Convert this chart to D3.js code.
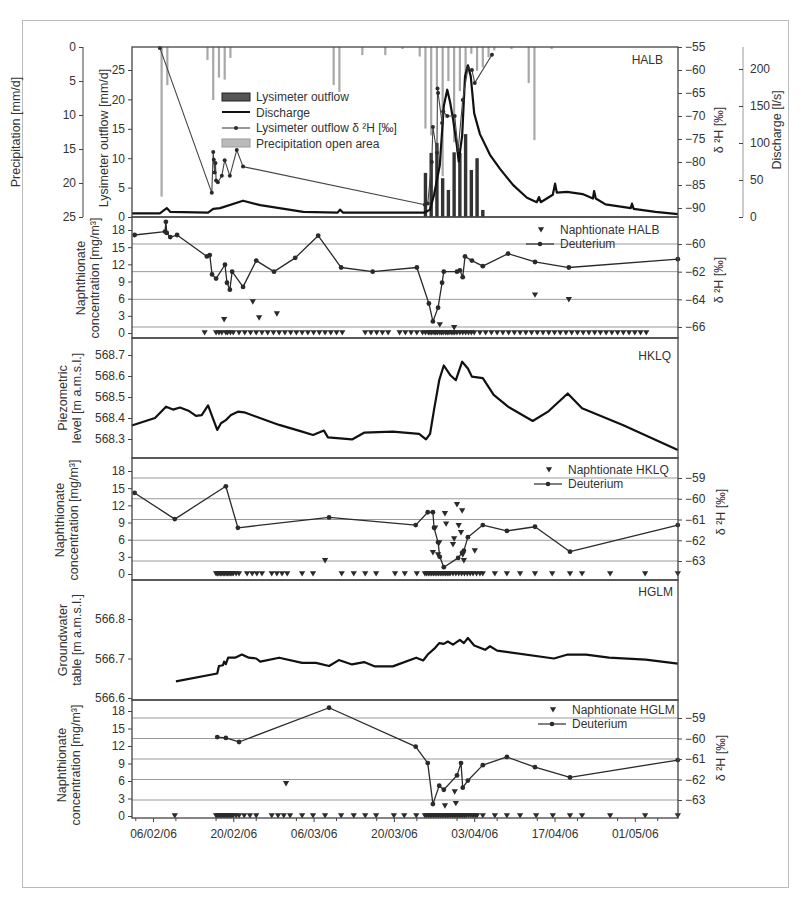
<!DOCTYPE html>
<meta charset="utf-8">
<style>
body { margin: 0; background: #fff; }
svg { font-family: "Liberation Sans", Arial, sans-serif; }
.axis text { font-size: 12px; fill: #333; }
.axis line { stroke: #444; }
.lbl { font-size: 12.5px; fill: #333; }
.leg { font-size: 12px; fill: #333; }
</style>
<svg width="809" height="900"></svg>
<script src="https://cdn.jsdelivr.net/npm/d3@7/dist/d3.min.js"></script>
<script>

// dates are "month-day" in 2006, day may be fractional
// ---- panel 1: HALB lysimeter / discharge / precipitation
var precipOpen = [["2-7",22],["2-8",5.6],["2-15",1.9],["2-16",7.8],["2-17",4.5],["2-18",4.8],["2-19",1.6],
  ["3-9",5.6],["3-10",6.6],["3-14",1.2],["3-18",1.2],["3-21",0.3],["3-24",1.4],["3-25",12],["3-26",13],
  ["3-27",6],["3-28",19],["3-29",5],["3-30",14],["3-31",6.5],["4-1",4],["4-2",1],["4-3",3.5],["4-4",3],
  ["4-5",1.5],["4-6",0.5],["4-9",0.3],["4-12",5.3],["4-13",13.7],["4-16",0.3]];
var lysOutflow = [["3-25",7.5],["3-26",10.9],["3-27",12.6],["3-28",6.6],["3-29",4.6],["3-30",11],
  ["3-31",10.9],["4-1",14.1],["4-2",8],["4-3",10],["4-4",1.2]];
var discharge = [["2-2.34",5],["2-7.2",5],["2-8.4",12],["2-9",7],["2-15.6",6],["2-16.5",11],["2-17.7",12],
  ["2-21.7",22],["2-24.7",16],["3-4.2",7],["3-10.2",6],["3-10.6",10],["3-11.1",6],["3-24.5",6],["3-25.4",6],
  ["3-26.3",10],["3-27",30],["3-27.5",50],["3-28",70],["3-28.7",150],["3-29.3",172],["3-29.8",155],
  ["3-30.3",133],["3-31",95],["3-31.3",75],["3-31.9",110],["4-1.4",190],["4-1.9",205],["4-2.4",190],
  ["4-3",140],["4-4",112],["4-5.75",84],["4-7.5",65],["4-9.8",43],["4-12.2",26],["4-13.9",20],["4-14.3",27],
  ["4-14.6",20],["4-16.7",30],["4-17.1",45],["4-17.4",33],["4-19.2",34],["4-21.9",31],["4-23.7",25],
  ["4-23.9",35],["4-24.2",25],["4-25.9",17],["4-30.3",12],["4-30.5",18],["4-30.8",11],["5-4.6",7],["5-8.5",4]];
var lysD2H = [["2-7.2",-55.2],["2-16.25",-86.7],["2-16.5",-77.8],["2-16.6",-79.5],["2-16.75",-82.3],
  ["2-16.9",-80.2],["2-17",-84],["2-17.3",-84.4],["2-18",-83],["2-18.5",-79.6],["2-19.4",-83],
  ["2-20.6",-77.4],["2-21.7",-81],["3-25.4",-89.3],["3-25.9",-89],["3-26.6",-80],["3-26.8",-72.4],
  ["3-27.5",-78],["3-27.6",-64],["3-27.7",-65],["3-28.4",-71.5],["3-28.6",-69],["3-29.3",-70],
  ["3-30.6",-70],["3-31.2",-77.4],["4-1",-66.5],["4-1.9",-59.6],["4-2.6",-60],["4-3.1",-62.8],["4-6.1",-56.7]];

// ---- panel 2: HALB naphthionate / deuterium
var halbD2H = [["2-2.8",-59.35],["2-8.1",-59.1],["2-8.25",-58.4],["2-8.4",-59.2],["2-9",-59.5],["2-10.2",-59.35],
  ["2-15.4",-60.9],["2-15.9",-60.8],["2-16.3",-62.2],["2-17",-62.5],["2-18.55",-61.5],["2-18.9",-62.8],
  ["2-19.4",-63.3],["2-19.8",-62],["2-21.7",-63.1],["2-24",-61.2],["2-27.1",-62],["3-2.8",-61],["3-6.8",-59.4],
  ["3-10.8",-61.7],["3-16.3",-62],["3-24",-61.7],["3-26.1",-64.3],["3-26.8",-65.6],["3-27.7",-64.6],
  ["3-28.4",-62.8],["3-28.7",-62],["3-31",-62],["3-31.5",-61.9],["4-1",-62.4],["4-1.4",-60.9],["4-2.6",-61.2],
  ["4-4.5",-61.6],["4-8.9",-60.7],["4-13.6",-61.3],["4-19.5",-61.7],["5-8.5",-61.1]];
var halbNaph = [["2-18.4",2.3],["2-23.4",5.4],["2-24.5",2.6],["2-27.6",3.3],["3-28",1.4],["3-30.5",0.9],
  ["4-13.6",6.6],["4-19.5",5.8]];
var halbZero = ["2-15","2-17","2-17.5","2-18","2-18.7","2-19","2-19.5","2-20","2-21","2-22","2-23","2-24",
  "2-25","2-26","2-27","2-28","3-1","3-2","3-3","3-4","3-5","3-6","3-7","3-8","3-9","3-10","3-11",
  "3-15","3-16","3-17","3-18","3-19","3-21","3-22","3-23","3-24","3-25","3-25.5","3-26","3-26.3","3-26.6",
  "3-27","3-27.3","3-27.6","3-28","3-28.3","3-28.6","3-29","3-29.3","3-29.6","3-30","3-30.3","3-30.6",
  "3-31","3-31.5","4-1","4-1.5","4-2","4-2.5","4-3","4-4","4-5","4-6","4-7","4-8","4-9","4-10","4-11",
  "4-12","4-13","4-14","4-15","4-16","4-17","4-18","4-19","4-20","4-21","4-22","4-23","4-24","4-25",
  "4-26","4-27","4-28","4-29","4-30","5-1","5-2","5-3"];

// ---- panel 3: HKLQ piezometric level
var hklqLevel = [["2-2.3",568.364],["2-6.35",568.40],["2-8.27",568.454],["2-9.5",568.44],["2-10.7",568.45],
  ["2-12.3",568.433],["2-13.5",568.41],["2-14.5",568.414],["2-15.6",568.46],["2-17.2",568.343],
  ["2-17.85",568.375],["2-18.7",568.39],["2-19.6",568.414],["2-20.8",568.43],["2-21.9",568.427],
  ["2-28",568.367],["3-4",568.335],["3-5.9",568.319],["3-7.8",568.34],["3-8.5",568.308],["3-12.7",568.298],
  ["3-14.8",568.33],["3-19.8",568.335],["3-24.4",568.324],["3-25.6",568.298],["3-26.3",568.324],
  ["3-27",568.44],["3-27.9",568.58],["3-28.7",568.65],["3-29.8",568.605],["3-30.8",568.58],["3-31.9",568.668],
  ["4-1.9",568.636],["4-2.6",568.597],["4-4.5",568.59],["4-6.4",568.51],["4-8.9",568.454],["4-13.2",568.386],
  ["4-16",568.433],["4-19.3",568.517],["4-21.8",568.446],["4-28.9",568.367],["5-8.5",568.248]];

// ---- panel 4: HKLQ naphthionate / deuterium
var hklqD2H = [["2-2.8",-59.72],["2-9.8",-60.98],["2-18.7",-59.4],["2-20.8",-61.4],["3-8.7",-60.9],
  ["3-23.8",-61.27],["3-25.9",-60.65],["3-26.8",-60.65],["3-27",-61.4],["3-27.7",-62.1],["3-28",-62.8],
  ["3-28.7",-63.3],["3-31.2",-62.85],["3-31.9",-62.6],["4-1.2",-62.5],["4-1.9",-61.85],["4-4.5",-61.27],
  ["4-8.7",-61.55],["4-13.6",-61.35],["4-19.7",-62.55],["5-8.5",-61.27]];
var hklqNaph = [["3-8",2.3],["3-26.8",3.7],["3-27.2",8],["3-27.7",3.3],["3-27.9",5.4],["3-28.9",10.5],
  ["3-29.1",8.7],["3-30.3",5.1],["3-30.5",6.1],["3-31",12.1],["3-31.3",8.4],["3-31.7",7.2],["3-31.9",11],
  ["4-1",3.3],["4-1.2",2.3],["4-3.1",4]];
var hklqZero = ["2-17","2-17.25","2-17.5","2-17.75","2-18","2-18.25","2-18.5","2-18.75","2-19","2-19.25",
  "2-19.5","2-19.75","2-20","2-20.5","2-21","2-22.4","2-23.3","2-24.1","2-25","2-26.7","2-27.6","2-28.5",
  "3-1.4","3-4","3-5.9","3-10.9","3-13","3-15","3-16.9","3-20.2","3-21.9","3-24","3-25.4","3-25.7","3-26",
  "3-26.3","3-26.6","3-26.9","3-27.2","3-27.5","3-27.8","3-28.1","3-28.4","3-28.7","3-29","3-29.3","3-29.6",
  "3-29.8","3-30.3","3-30.8","3-31.3","3-31.8","4-1.3","4-1.8","4-2.3","4-2.8","4-3.4","4-4","4-4.5",
  "4-6.6","4-8.7","4-11","4-13.6","4-16.6","4-19.7","4-21.8","4-26.7","5-2.8","5-8.5"];

// ---- panel 5: HGLM groundwater table
var hglmLevel = [["2-10",566.642],["2-17.2",566.662],["2-17.5",566.681],["2-18.2",566.683],["2-18.4",566.692],
  ["2-18.7",566.686],["2-19.1",566.702],["2-20.3",566.702],["2-21.5",566.71],["2-22.7",566.702],["2-24",566.7],
  ["2-24.7",566.692],["2-28",566.702],["3-4",566.689],["3-6.4",566.689],["3-8.7",566.681],["3-10.4",566.696],
  ["3-12.7",566.685],["3-14.8",566.691],["3-16.7",566.68],["3-19.8",566.68],["3-23.9",566.702],
  ["3-25.1",566.695],["3-25.9",566.71],["3-27.2",566.727],["3-27.9",566.739],["3-28.7",566.737],
  ["3-29.4",566.743],["3-30.3",566.735],["3-31.5",566.747],["4-1.2",566.739],["4-1.9",566.752],["4-3",566.733],
  ["4-4.9",566.722],["4-5.75",566.731],["4-7",566.72],["4-16.9",566.7],["4-19.3",566.71],["4-22.5",566.71],
  ["4-26.5",566.702],["5-2.9",566.697],["5-8.5",566.687]];

// ---- panel 6: HGLM naphthionate / deuterium
var hglmD2H = [["2-17.2",-59.93],["2-18.7",-59.97],["2-21",-60.17],["3-8.7",-58.5],["3-23.8",-60.4],
  ["3-25.9",-61.2],["3-26.8",-63.2],["3-27.9",-62.3],["3-28.7",-62.5],["3-31",-61.8],["3-31.7",-61.2],
  ["4-1",-62.4],["4-1.9",-62.05],["4-4.5",-61.3],["4-8.7",-60.9],["4-13.6",-61.4],["4-19.7",-61.9],["5-8.5",-61.05]];
var hglmNaph = [["3-1.2",5.5],["3-28.9",1.7],["3-30.6",4.1],["3-30.8",2.1]];
var hglmZero = ["2-9.8","2-17","2-17.25","2-17.5","2-17.75","2-18","2-18.25","2-18.5","2-18.75","2-19",
  "2-19.25","2-19.5","2-19.75","2-20","2-20.5","2-21","2-21.9","2-22.9","2-24","2-26.7","2-27.8","2-28.8",
  "3-1.9","3-4","3-5.9","3-8","3-10.8","3-13","3-15","3-16.9","3-20","3-21.8","3-23.9","3-25.4","3-25.7",
  "3-26","3-26.3","3-26.6","3-26.9","3-27.2","3-27.5","3-27.8","3-28.1","3-28.4","3-28.7","3-29","3-29.3",
  "3-29.6","3-29.9","3-30.2","3-30.5","3-30.8","3-31.1","3-31.4","3-31.7","4-1","4-1.3","4-1.6","4-2",
  "4-2.4","4-2.8","4-3.2","4-3.5","4-4.5","4-6.6","4-8.7","4-11","4-13.8","4-16.7","4-19.7","4-21.8",
  "4-26.7","5-2.8","5-8.5"];

var xTicks = ["2-6","2-20","3-6","3-20","4-3","4-17","5-1"];

// ------------------------------------------------------------------
var t = function(s) {
  var p = s.split("-");
  return new Date(Date.UTC(2006, +p[0] - 1, 1) + (+p[1] - 1) * 864e5);
};
var svg = d3.select("svg");
var X0 = 132, X1 = 678;
var x = d3.scaleUtc().domain([t("2-2.34"), t("5-8.53")]).range([X0, X1]);
var day = x(t("2-2")) - x(t("2-1"));
var ink = "#2a2a2a";
var fInt = d3.format("d");

svg.append("rect").attr("x", 22.5).attr("y", 20.5).attr("width", 766).attr("height", 867)
  .attr("fill", "none").attr("stroke", "#bbb");

function axis(gen, tx, ty, vals, fmt) {
  var g = svg.append("g").attr("class", "axis").attr("transform", "translate(" + tx + "," + ty + ")")
    .call(gen.tickValues(vals).tickSize(4).tickPadding(3).tickFormat(fmt || null));
  g.select(".domain").remove();
  return g;
}
// rotated axis title, xc = centre of the first line
function vlabel(xc, yc, lines) {
  lines.forEach(function(s, i) {
    svg.append("text").attr("class", "lbl").attr("text-anchor", "middle")
      .attr("transform", "translate(" + (xc + 5 + i * 14) + "," + yc + ") rotate(-90)").text(s);
  });
}
function grid(vals, y) {
  svg.append("g").selectAll("line").data(vals).enter().append("line")
    .attr("x1", X0).attr("x2", X1).attr("y1", y).attr("y2", y)
    .attr("stroke", "#9a9a9a").attr("stroke-width", 1);
}
function frame(top, bottom) {
  svg.append("rect").attr("x", X0).attr("y", top).attr("width", X1 - X0).attr("height", bottom - top)
    .attr("fill", "none").attr("stroke", "#444").attr("stroke-width", 1.3);
}
function dline(data, y, w, col) {
  svg.append("path").datum(data).attr("fill", "none").attr("stroke", col || ink).attr("stroke-width", w)
    .attr("stroke-linejoin", "round")
    .attr("d", d3.line().x(function(d) { return x(t(d[0])); }).y(function(d) { return y(d[1]); }));
}
function dots(data, y, r) {
  svg.append("g").selectAll("circle").data(data).enter().append("circle")
    .attr("cx", function(d) { return x(t(d[0])); }).attr("cy", function(d) { return y(d[1]); })
    .attr("r", r).attr("fill", ink);
}
var tri = d3.symbol().type(d3.symbolTriangle).size(17);
function tris(data, y) {
  svg.append("g").selectAll("path").data(data).enter().append("path").attr("d", tri).attr("fill", ink)
    .attr("transform", function(d) {
      return "translate(" + x(t(d[0])) + "," + (y(d[1]) - 1) + ") rotate(180)";
    });
}
function naphLegend(xt, yt, name) {
  svg.append("path").attr("d", tri).attr("fill", ink)
    .attr("transform", "translate(" + (xt - 19) + "," + (yt - 5) + ") rotate(180)");
  svg.append("text").attr("class", "leg").attr("x", xt).attr("y", yt).text(name);
  svg.append("line").attr("x1", xt - 34).attr("x2", xt - 6).attr("y1", yt + 10).attr("y2", yt + 10)
    .attr("stroke", ink).attr("stroke-width", 1.2);
  svg.append("circle").attr("cx", xt - 20).attr("cy", yt + 10).attr("r", 2.3).attr("fill", ink);
  svg.append("text").attr("class", "leg").attr("x", xt).attr("y", yt + 14).text("Deuterium");
}

// ---------------- panel 1
var pTop = 47, pBot = 217;
var yPrec = d3.scaleLinear().domain([0, 25]).range([pTop, pBot]);
var yLys = d3.scaleLinear().domain([0, 25]).range([pBot, 70]);
var yD1 = d3.scaleLinear().domain([-90, -55]).range([208, pTop]);
var yQ = d3.scaleLinear().domain([0, 200]).range([pBot, 69]);

svg.append("g").selectAll("rect").data(precipOpen).enter().append("rect")
  .attr("x", function(d) { return x(t(d[0])) + day / 2 - 1.1; }).attr("width", 2.2)
  .attr("y", pTop).attr("height", function(d) { return yPrec(d[1]) - pTop; })
  .attr("fill", "#a8a8a8");
svg.append("g").selectAll("rect").data(lysOutflow).enter().append("rect")
  .attr("x", function(d) { return x(t(d[0])) + day / 2 - 1.7; }).attr("width", 3.4)
  .attr("y", function(d) { return yLys(d[1]); }).attr("height", function(d) { return pBot - yLys(d[1]); })
  .attr("fill", "#333");
dline(discharge, yQ, 2.2, "#111");
dline(lysD2H, yD1, 1.1, "#444");
dots(lysD2H, yD1, 2);
frame(pTop, pBot);

// precipitation axis, out on the left
svg.append("line").attr("x1", 83).attr("x2", 83).attr("y1", pTop).attr("y2", pBot).attr("stroke", "#444");
axis(d3.axisLeft(yPrec), 83, 0, [0, 5, 10, 15, 20, 25]);
axis(d3.axisLeft(yLys), X0, 0, [0, 5, 10, 15, 20, 25]);
axis(d3.axisRight(yD1), X1, 0, d3.range(-55, -91, -5), fInt);
svg.append("line").attr("x1", 743).attr("x2", 743).attr("y1", pTop).attr("y2", pBot).attr("stroke", "#999");
axis(d3.axisRight(yQ), 743, 0, [0, 50, 100, 150, 200]).selectAll("line").attr("x2", -4).attr("stroke", "#999");
vlabel(15, 132, ["Precipitation [mm/d]"]);
vlabel(103, 138, ["Lysimeter outflow [mm/d]"]);
vlabel(718, 130, ["\u03b4 \u00b2H [\u2030]"]);
vlabel(776, 130, ["Discharge [l/s]"]);
svg.append("text").attr("class", "leg").attr("x", 663).attr("y", 64).attr("text-anchor", "end").text("HALB");

// legend of panel 1
var lg = svg.append("g").attr("transform", "translate(222,97)");
lg.append("rect").attr("x", 0).attr("y", -4).attr("width", 28).attr("height", 8).attr("fill", "#555").attr("stroke", "#222");
lg.append("line").attr("x1", 0).attr("x2", 28).attr("y1", 15).attr("y2", 15).attr("stroke", "#111").attr("stroke-width", 2);
lg.append("line").attr("x1", 0).attr("x2", 28).attr("y1", 31).attr("y2", 31).attr("stroke", "#444").attr("stroke-width", 1.1);
lg.append("circle").attr("cx", 14).attr("cy", 31).attr("r", 2).attr("fill", ink);
lg.append("rect").attr("x", 0).attr("y", 42).attr("width", 28).attr("height", 8).attr("fill", "#bbb").attr("stroke", "#999");
["Lysimeter outflow", "Discharge", "Lysimeter outflow \u03b4 \u00b2H [\u2030]", "Precipitation open area"]
  .forEach(function(s, i) {
    lg.append("text").attr("class", "leg").attr("x", 34).attr("y", 4 + i * 15.5).text(s);
  });

// ---------------- panel 2
var yN2 = d3.scaleLinear().domain([0, 18]).range([333, 230]);
var yD2 = d3.scaleLinear().domain([-66, -60]).range([327, 244]);
grid([-60, -62, -64, -66], yD2);
naphLegend(560, 234, "Naphtionate  HALB");
dline(halbD2H, yD2, 1.3);
dots(halbD2H, yD2, 2.4);
tris(halbNaph, yN2);
tris(halbZero.map(function(s) { return [s, 0]; }), yN2);
frame(217, 338);
axis(d3.axisLeft(yN2), X0, 0, [0, 3, 6, 9, 12, 15, 18]);
axis(d3.axisRight(yD2), X1, 0, [-60, -62, -64, -66], fInt);
vlabel(80, 278, ["Naphthionate", "concentration [mg/m\u00b3]"]);
vlabel(718, 280, ["\u03b4 \u00b2H [\u2030]"]);

// ---------------- panel 3
var yP = d3.scaleLinear().domain([568.3, 568.7]).range([439, 355]);
dline(hklqLevel, yP, 2.2, "#111");
frame(338, 458);
axis(d3.axisLeft(yP), X0, 0, [568.3, 568.4, 568.5, 568.6, 568.7], d3.format(".1f"));
vlabel(62, 398, ["Piezometric", "level [m a.m.s.l.]"]);
svg.append("text").attr("class", "leg").attr("x", 671).attr("y", 360).attr("text-anchor", "end").text("HKLQ");

// ---------------- panel 4
var yN4 = d3.scaleLinear().domain([0, 18]).range([574, 471]);
var yD4 = d3.scaleLinear().domain([-63, -59]).range([561, 478]);
grid([-59, -60, -61, -62, -63], yD4);
naphLegend(568, 474, "Naphtionate HKLQ");
dline(hklqD2H, yD4, 1.3);
dots(hklqD2H, yD4, 2.4);
tris(hklqNaph, yN4);
tris(hklqZero.map(function(s) { return [s, 0]; }), yN4);
frame(458, 580);
axis(d3.axisLeft(yN4), X0, 0, [0, 3, 6, 9, 12, 15, 18]);
axis(d3.axisRight(yD4), X1, 0, [-59, -60, -61, -62, -63], fInt);
vlabel(59, 520, ["Naphthionate", "concentration [mg/m\u00b3]"]);
vlabel(720, 512, ["\u03b4 \u00b2H [\u2030]"]);

// ---------------- panel 5
var yG = d3.scaleLinear().domain([566.6, 566.8]).range([698, 619]);
dline(hglmLevel, yG, 2.2, "#111");
frame(580, 700);
axis(d3.axisLeft(yG), X0, 0, [566.6, 566.7, 566.8], d3.format(".1f"));
vlabel(62, 640, ["Groundwater", "table [m a.m.s.l.]"]);
svg.append("text").attr("class", "leg").attr("x", 673).attr("y", 596).attr("text-anchor", "end").text("HGLM");

// ---------------- panel 6
var yN6 = d3.scaleLinear().domain([0, 18]).range([816, 711]);
var yD6 = d3.scaleLinear().domain([-63, -59]).range([800, 718]);
grid([-59, -60, -61, -62, -63], yD6);
naphLegend(572, 714, "Naphtionate HGLM");
dline(hglmD2H, yD6, 1.3);
dots(hglmD2H, yD6, 2.4);
tris(hglmNaph, yN6);
tris(hglmZero.map(function(s) { return [s, 0]; }), yN6);
frame(700, 818);
axis(d3.axisLeft(yN6), X0, 0, [0, 3, 6, 9, 12, 15, 18]);
axis(d3.axisRight(yD6), X1, 0, [-59, -60, -61, -62, -63], fInt);
vlabel(61, 765, ["Naphthionate", "concentration [mg/m\u00b3]"]);
vlabel(720, 758, ["\u03b4 \u00b2H [\u2030]"]);

// ---------------- time axis
var xa = axis(d3.axisBottom(x), 0, 818, xTicks.map(t), d3.utcFormat("%d/%m/%y"));
xa.selectAll("text").attr("dy", "1.1em");
svg.append("g").selectAll("line").data(d3.utcDay.range(t("2-3"), t("5-8"), 7)).enter().append("line")
  .attr("x1", x).attr("x2", x).attr("y1", 818).attr("y2", 821).attr("stroke", "#444");

</script>
